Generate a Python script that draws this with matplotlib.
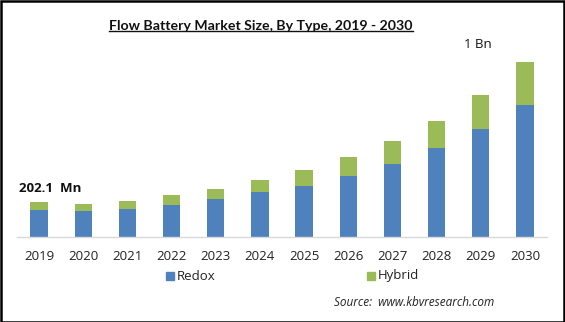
import matplotlib
matplotlib.use("Agg")
import matplotlib.pyplot as plt
from matplotlib.patches import Rectangle

years = ["2019", "2020", "2021", "2022", "2023", "2024",
         "2025", "2026", "2027", "2028", "2029", "2030"]
redox = [152, 146, 160, 183, 217, 257, 291, 349, 417, 509, 617, 754]
hybrid = [50.1, 43, 46, 57, 57, 69, 92, 108, 132, 154, 194, 246]

series_names = ["Redox", "Hybrid"]
colors = ["#4F81BD", "#9BBB59"]

plt.rcParams["font.family"] = ["Open Sans", "DejaVu Sans"]

W, H = 565, 322
fig = plt.figure(figsize=(W / 100, H / 100), dpi=100)
fig.patch.set_facecolor("white")

ax = fig.add_axes([17 / W, 85 / H, 530 / W, 175 / H])
x = list(range(len(years)))
ax.bar(x, redox, width=0.39, color=colors[0], zorder=2)
ax.bar(x, hybrid, width=0.39, bottom=redox, color=colors[1], zorder=2)

ax.set_xlim(-0.5, len(years) - 0.5)
ax.set_ylim(0, 1000)
for s in ["top", "left", "right"]:
    ax.spines[s].set_visible(False)
ax.spines["bottom"].set_color("#D9D9D9")
ax.spines["bottom"].set_linewidth(1.0)
ax.set_yticks([])
ax.set_xticks(x)
ax.set_xticklabels(years, fontsize=9.5, color="#222222")
ax.tick_params(axis="x", length=0, pad=9)

# value call-outs for first and last year
ax.text(-0.45, redox[0] + hybrid[0] + 40, "202.1  Mn", fontsize=9.5,
        fontweight="bold", ha="left", va="bottom", color="#111111")
ax.text(len(years) - 1.74, redox[-1] + hybrid[-1] + 60, "1 Bn", fontsize=9.5,
        ha="right", va="bottom", color="#111111")

# title
title_text = "Flow Battery Market Size, By Type, 2019 - 2030"
t = fig.text(261 / W, 1 - 26 / H, title_text, ha="center", va="center",
             fontsize=10.2, fontweight="bold", color="#111111",
             family=["Lato", "DejaVu Sans"])
fig.canvas.draw()
bb = t.get_window_extent()
fig.add_artist(plt.Line2D([bb.x0 / W, bb.x1 / W],
                          [bb.y0 / H + 0.004, bb.y0 / H + 0.004],
                          color="#111111", lw=1.0, transform=fig.transFigure))

# legend
for name, col, lx in zip(series_names, colors, [166, 367]):
    fig.add_artist(Rectangle((lx / W, 1 - 280 / H), 8 / W, 8 / H,
                             transform=fig.transFigure, color=col))
    fig.text((lx + 11) / W, 1 - 276 / H, name, fontsize=9.5, va="center",
             ha="left", color="#222222")

fig.text(334 / W, 1 - 302 / H, "Source:  www.kbvresearch.com", fontsize=8.5,
         style="italic", ha="left", va="center", color="#222222")

# outer frame
fig.add_artist(Rectangle((0.5 / W, 0.5 / H), 1 - 1.5 / W, 1 - 1.5 / H,
                         transform=fig.transFigure, fill=False,
                         edgecolor="black", lw=1.8))

fig.savefig("out.png", dpi=100, facecolor="white")
